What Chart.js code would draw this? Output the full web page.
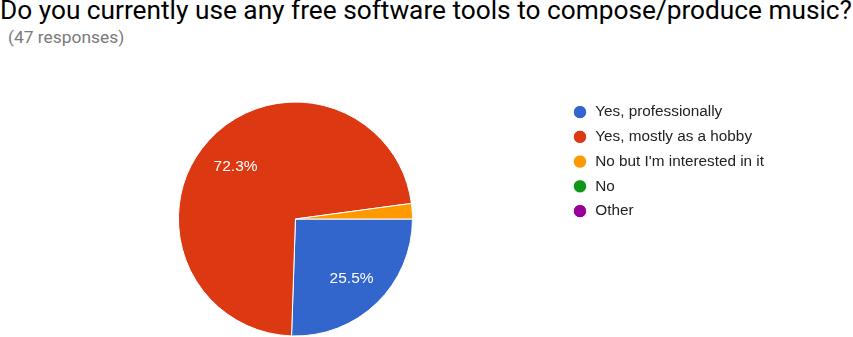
<!DOCTYPE html>
<html>
<head>
<meta charset="utf-8">
<script src="https://cdn.jsdelivr.net/npm/chart.js@4"></script>
<style>
  html, body { margin: 0; padding: 0; background: #fff; overflow: hidden; }
  body { width: 853px; height: 337px; position: relative; }
  #title {
    position: absolute; left: 0; top: -5px; white-space: nowrap;
    font-family: Roboto, sans-serif; font-size: 26px; color: #000;
    transform-origin: 0 0;
  }
  #subtitle {
    position: absolute; left: 8px; top: 27px; white-space: nowrap;
    font-family: Roboto, sans-serif; font-size: 17.4px; color: #7a7a7a;
  }
  #wrap { position: absolute; left: 0; top: 50px; width: 774px; height: 300px; }
</style>
</head>
<body>
<div id="title">Do you currently use any free software tools to compose/produce music?</div>
<div id="subtitle">(47 responses)</div>
<div id="wrap"><canvas id="pie"></canvas></div>
<script>
const answers = [
  "Yes, professionally",
  "Yes, mostly as a hobby",
  "No but I'm interested in it",
  "No",
  "Other",
];
const counts = [12, 34, 1, 0, 0];
const colors = ["#3366cc", "#dc3912", "#ff9900", "#109618", "#990099"];

const total = counts.reduce((a, b) => a + b, 0);

// stretch the title to the width it has in the original
const title = document.getElementById("title");
title.style.transform = `scaleX(${852 / title.getBoundingClientRect().width})`;

// percentage labels inside the bigger slices
const sliceLabels = {
  id: "sliceLabels",
  afterDatasetsDraw(chart) {
    const { ctx } = chart;
    const meta = chart.getDatasetMeta(0);
    ctx.save();
    ctx.font = "15.5px 'Liberation Sans', Arial, sans-serif";
    ctx.fillStyle = "#fff";
    ctx.textAlign = "center";
    ctx.textBaseline = "middle";
    meta.data.forEach((arc, i) => {
      const pct = (counts[i] / total) * 100;
      if (pct < 5) return;
      const mid = (arc.startAngle + arc.endAngle) / 2;
      const r = arc.outerRadius * 0.69;
      ctx.fillText(pct.toFixed(1) + "%", arc.x + Math.cos(mid) * r, arc.y + Math.sin(mid) * r + 1.5);
    });
    ctx.restore();
  },
};

new Chart(document.getElementById("pie"), {
  type: "pie",
  data: {
    labels: answers,
    datasets: [
      {
        data: counts,
        backgroundColor: colors,
        borderColor: "#fff",
        borderWidth: 1,
        radius: 117,
      },
    ],
  },
  options: {
    responsive: true,
    maintainAspectRatio: false,
    animation: false,
    rotation: 90,
    layout: { padding: { top: 45, bottom: 7, left: 28, right: 0 } },
    plugins: {
      tooltip: { enabled: false },
      legend: {
        position: "right",
        align: "start",
        labels: {
          usePointStyle: true,
          pointStyle: "circle",
          boxWidth: 16,
          boxHeight: 9.5,
          padding: 9.45,
          color: "#222",
          font: { family: "'Liberation Sans', Arial, sans-serif", size: 15.3 },
        },
      },
    },
  },
  plugins: [sliceLabels],
});
</script>
</body>
</html>
